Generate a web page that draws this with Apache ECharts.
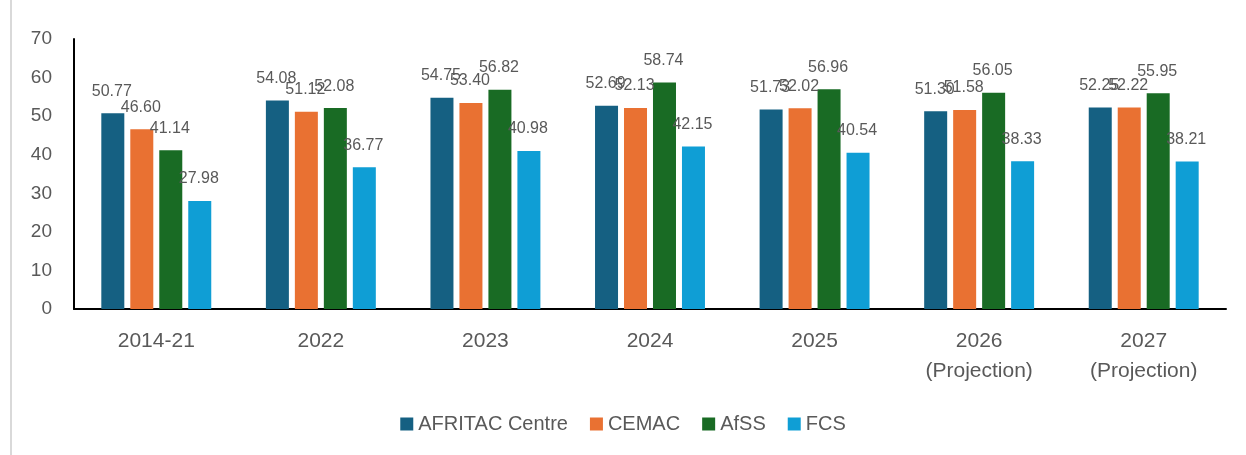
<!DOCTYPE html>
<html>
<head>
<meta charset="utf-8">
<script src="https://cdn.jsdelivr.net/npm/echarts@6/dist/echarts.min.js"></script>
<style>
  html, body { margin: 0; padding: 0; background: #fff; }
  #chart { width: 1246px; height: 455px; }
</style>
</head>
<body>
<div id="chart"></div>
<script>
// Chart data
const categories = ['2014-21', '2022', '2023', '2024', '2025', '2026\n(Projection)', '2027\n(Projection)'];
const afritacCentre = [50.77, 54.08, 54.75, 52.69, 51.73, 51.30, 52.25];
const cemac = [46.60, 51.12, 53.40, 52.13, 52.02, 51.58, 52.22];
const afss = [41.14, 52.08, 56.82, 58.74, 56.96, 56.05, 55.95];
const fcs = [27.98, 36.77, 40.98, 42.15, 40.54, 38.33, 38.21];
const yTicks = [0, 10, 20, 30, 40, 50, 60, 70];

const seriesDefs = [
    { name: 'AFRITAC Centre', data: afritacCentre, color: '#156082' },
    { name: 'CEMAC', data: cemac, color: '#E97132' },
    { name: 'AfSS', data: afss, color: '#196B24' },
    { name: 'FCS', data: fcs, color: '#0F9ED5' }
];

const chart = echarts.init(document.getElementById('chart'));

const series = seriesDefs.map(s => ({
    name: s.name,
    type: 'bar',
    data: s.data,
    barWidth: 23,
    barGap: '26%',
    itemStyle: { color: s.color },
    label: {
        show: true,
        position: 'top',
        offset: [-1, -9],
        color: '#595959',
        fontFamily: 'Liberation Sans Narrow, Liberation Sans, Arial',
        fontSize: 16,
        formatter: p => p.value.toFixed(2)
    }
}));

chart.setOption({
    animation: false,
    textStyle: { fontFamily: 'Liberation Sans, Arial' },
    graphic: [{
        type: 'rect',
        shape: { x: 11, y: -5, width: 1300, height: 470 },
        style: { fill: 'none', stroke: '#d9d9d9', lineWidth: 2 }
    }],
    grid: { left: 74, right: 20, top: 39, bottom: 146, containLabel: false },
    legend: {
        top: 409,
        left: 'center',
        itemWidth: 13,
        itemHeight: 13,
        itemGap: 22,
        icon: 'rect',
        textStyle: { color: '#595959', fontSize: 20, fontFamily: 'Liberation Sans, Arial' },
        data: seriesDefs.map(s => s.name)
    },
    xAxis: {
        type: 'category',
        data: categories,
        axisLine: { lineStyle: { color: '#000', width: 2 } },
        axisTick: { show: false },
        axisLabel: {
            color: '#595959',
            fontSize: 21,
            lineHeight: 30,
            margin: 17,
            fontFamily: 'Liberation Sans, Arial'
        }
    },
    yAxis: {
        type: 'value',
        min: yTicks[0],
        max: yTicks[yTicks.length - 1],
        interval: 10,
        axisLine: { show: true, lineStyle: { color: '#000', width: 2 } },
        axisTick: { show: false },
        splitLine: { show: false },
        axisLabel: {
            color: '#595959',
            fontSize: 19,
            margin: 22,
            fontFamily: 'Liberation Sans, Arial'
        }
    },
    series: series
});

window.addEventListener('resize', () => chart.resize());
</script>
</body>
</html>
